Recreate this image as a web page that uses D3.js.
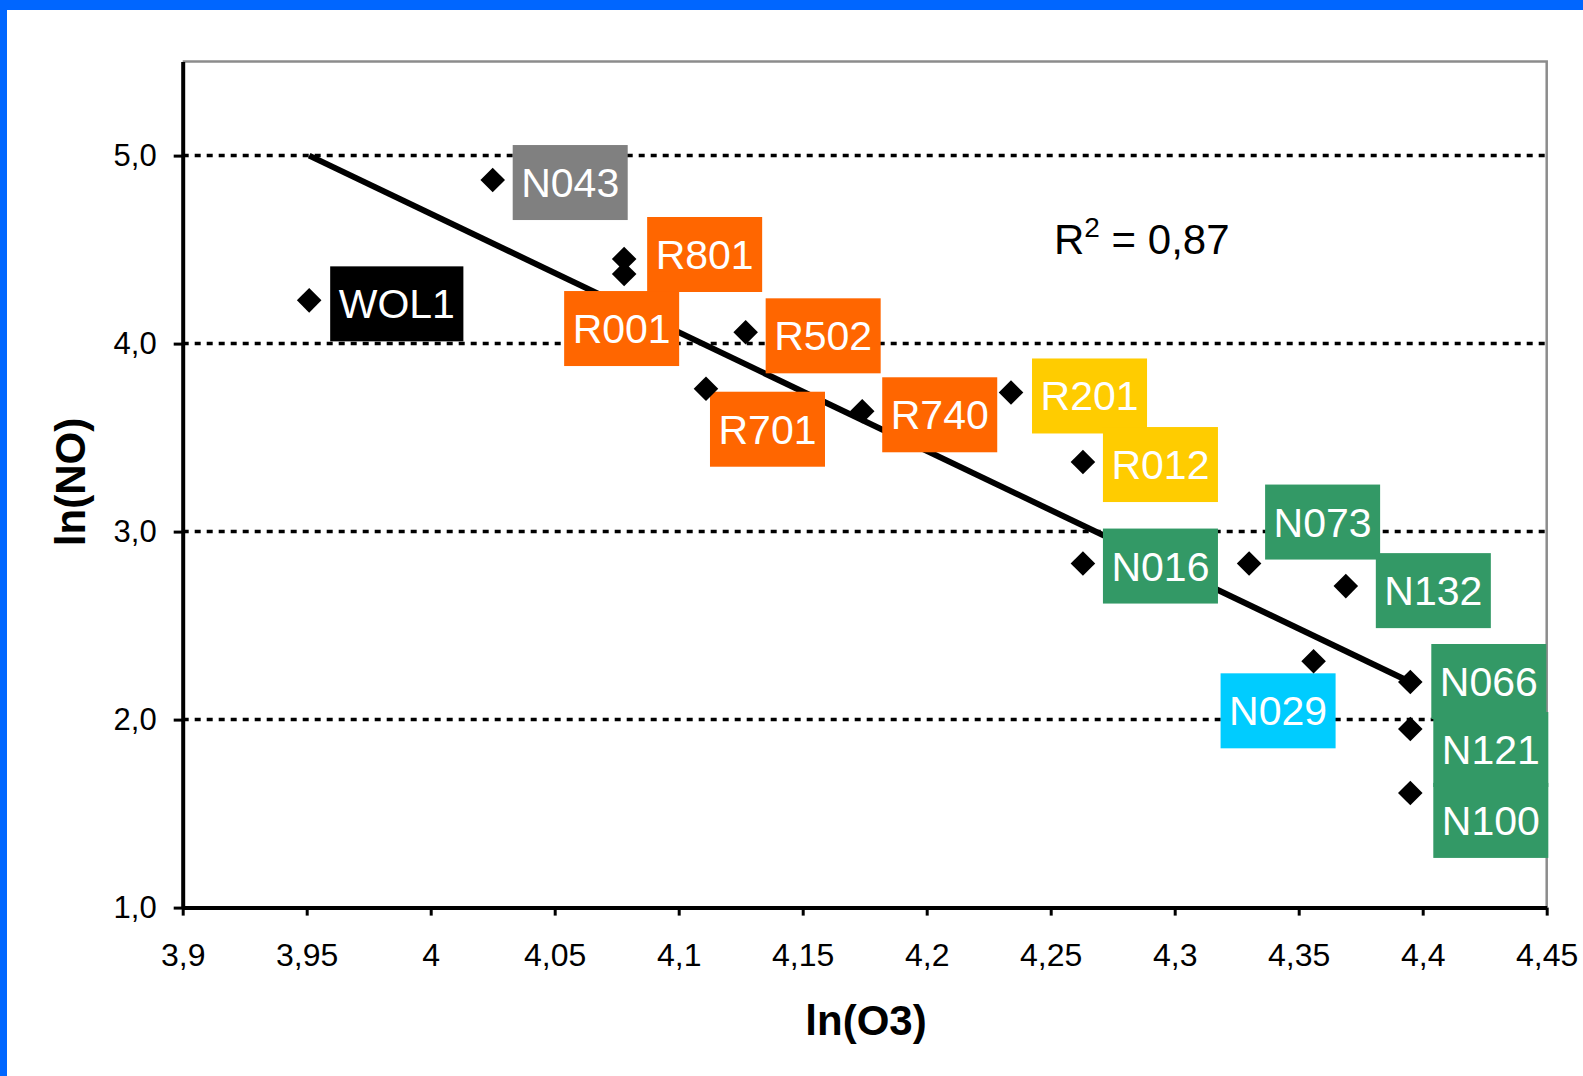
<!DOCTYPE html>
<html>
<head>
<meta charset="utf-8">
<script src="https://cdn.jsdelivr.net/npm/d3@7"></script>
<style>
  html, body { margin: 0; padding: 0; background: #fff; }
  svg { display: block; font-family: "Liberation Sans", Arial, sans-serif; }
</style>
</head>
<body>
<svg id="chart" width="1583" height="1076"></svg>
<script>
// ---- data ----
const stations = ["WOL1","N043","R801","R001","R502","R701","R740","R201","R012","N016","N073","N132","N029","N066","N121","N100"];
const lnO3     = [3.951, 4.025, 4.078, 4.078, 4.127, 4.111, 4.174, 4.234, 4.263, 4.263, 4.330, 4.369, 4.356, 4.395, 4.395, 4.395];
const lnNO     = [4.23,  4.87,  4.45,  4.37,  4.06,  3.76,  3.64,  3.74,  3.37,  2.83,  2.83,  2.71,  2.31,  2.20,  1.95,  1.61];
const groups   = ["ref","grey","orange","orange","orange","orange","orange","yellow","yellow","green","green","green","cyan","green","green","green"];
const trendX   = [3.951, 4.395];
const trendY   = [5.0, 2.2];
const rSquared = "0,87";
const xTicks      = [3.9, 3.95, 4, 4.05, 4.1, 4.15, 4.2, 4.25, 4.3, 4.35, 4.4, 4.45];
const xTickLabels = ["3,9","3,95","4","4,05","4,1","4,15","4,2","4,25","4,3","4,35","4,4","4,45"];
const yTicks      = [1, 2, 3, 4, 5];
const yTickLabels = ["1,0","2,0","3,0","4,0","5,0"];
const gridValues  = [2, 3, 4, 5];

// ---- layout / style (not data) ----
const groupColor = {ref:"#000000", grey:"#808080", orange:"#FF6600", yellow:"#FFCC00", green:"#339966", cyan:"#00CCFF"};
// label box offsets (px) relative to marker position
const labelDx = [21, 20, 23, -60, 20, 4, 20, 21, 20, 20, 16, 30, -93, 21, 23, 23];
const labelDy = [-34,-35,-42, 17,-34, 3,-34,-34,-35,-35,-79,-33, 12,-38,-17,-10];

const svg = d3.select("#chart");
const W = 1583, H = 1076;
const plot = {left: 182.7, right: 1546.7, top: 61.6, bottom: 907.6};

// blue frame
svg.append("rect").attr("x",0).attr("y",0).attr("width",W).attr("height",10).attr("fill","#0066FF");
svg.append("rect").attr("x",0).attr("y",0).attr("width",7).attr("height",H).attr("fill","#0066FF");

const x = d3.scaleLinear().domain([3.9, 4.45]).range([plot.left, plot.right]);
const y = d3.scaleLinear().domain([1, 5.5]).range([plot.bottom, plot.top]);

// top/right frame (grey)
svg.append("path")
  .attr("d", `M${plot.left},${plot.top}H${plot.right}V${plot.bottom}`)
  .attr("fill","none").attr("stroke","#8c8c8c").attr("stroke-width",2.5);

// gridlines
svg.append("g").selectAll("line").data(gridValues).join("line")
  .attr("x1", plot.left).attr("x2", plot.right)
  .attr("y1", d => y(d)).attr("y2", d => y(d))
  .attr("stroke","#000").attr("stroke-width",3.5).attr("stroke-dasharray","6,6");

// axes
const xAxis = d3.axisBottom(x).tickValues(xTicks).tickFormat((d,i) => xTickLabels[i]).tickSize(8).tickSizeOuter(0).tickPadding(28);
const gx = svg.append("g").attr("transform", `translate(0,${plot.bottom})`).call(xAxis);
gx.select(".domain").attr("stroke","#000").attr("stroke-width",4);
gx.selectAll(".tick line").attr("stroke","#000").attr("stroke-width",3);
gx.selectAll(".tick text").attr("font-size",32).attr("fill","#000").attr("font-family","Liberation Sans, Arial, sans-serif");

const yAxis = d3.axisLeft(y).tickValues(yTicks).tickFormat((d,i) => yTickLabels[i]).tickSize(9).tickSizeOuter(0).tickPadding(17);
const gy = svg.append("g").attr("transform", `translate(${plot.left},0)`).call(yAxis);
gy.select(".domain").attr("stroke","#000").attr("stroke-width",4);
gy.selectAll(".tick line").attr("stroke","#000").attr("stroke-width",3);
gy.selectAll(".tick text").attr("font-size",31).attr("fill","#000").attr("font-family","Liberation Sans, Arial, sans-serif");

// trend line
svg.append("path")
  .datum(trendX.map((v,i) => [v, trendY[i]]))
  .attr("d", d3.line().x(d => x(d[0])).y(d => y(d[1])))
  .attr("fill","none").attr("stroke","#000").attr("stroke-width",6);

// labels
const labels = svg.append("g");
stations.forEach((s, i) => {
  const px = x(lnO3[i]), py = y(lnNO[i]);
  const g = labels.append("g").attr("transform", `translate(${px + labelDx[i]},${py + labelDy[i]})`);
  const rect = g.append("rect").attr("height", 75).attr("fill", groupColor[groups[i]]);
  const t = g.append("text").text(s).attr("font-size", 41).attr("fill", "#fff").attr("y", 52);
  const w = t.node().getComputedTextLength();
  rect.attr("width", w + 17);
  t.attr("x", 8.5);
});

// markers
svg.append("g").selectAll("path").data(stations).join("path")
  .attr("d", d3.symbol().type(d3.symbolDiamond2).size(385))
  .attr("transform", (d,i) => `translate(${x(lnO3[i])},${y(lnNO[i])})`)
  .attr("fill","#000");

// R² annotation
const r2 = svg.append("text").attr("x", 1054).attr("y", 254).attr("font-size", 42).attr("fill","#000");
r2.append("tspan").text("R");
r2.append("tspan").text("2").attr("font-size", 28).attr("dy", -17);
r2.append("tspan").text(" = " + rSquared).attr("dy", 17);

// axis titles
svg.append("text").text("ln(O3)").attr("x", 866).attr("y", 1035)
  .attr("text-anchor","middle").attr("font-size",42).attr("font-weight","bold").attr("fill","#000");
svg.append("text").text("ln(NO)").attr("transform","translate(85,482) rotate(-90)")
  .attr("text-anchor","middle").attr("font-size",42).attr("font-weight","bold").attr("fill","#000");
</script>
</body>
</html>
